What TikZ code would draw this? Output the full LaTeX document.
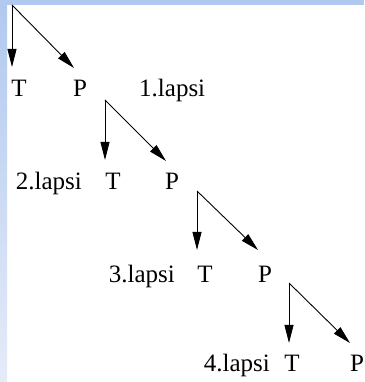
\documentclass[tikz,border=0pt]{standalone}
\usepackage{fontspec}
\setmainfont{Liberation Serif}
\usetikzlibrary{arrows.meta}
\definecolor{slideblue}{RGB}{178,201,239}
\definecolor{slidepale}{RGB}{229,235,248}
\tikzset{
  lbl/.style={inner sep=0pt,anchor=base,font=\fontsize{25}{30}\selectfont},
  arr/.style={-{Triangle[length=18pt,width=9pt]},line width=0.9pt}
}
\begin{document}
\begin{tikzpicture}[x=1pt,y=1pt]
\useasboundingbox (0,0) rectangle (364,382);
\fill[white] (0,0) rectangle (364,382);
\fill[slideblue] (0,377) rectangle (364,382);
\shade[top color=slideblue,bottom color=slidepale] (0,0) rectangle (7,377);
% 1. lapsi
\coordinate (v1) at (12,377);
\coordinate (t1) at (12,315);
\coordinate (p1) at (74,314);
\node[lbl] (T1) at (19,285) {T};
\node[lbl] (P1) at (80,285) {P};
\node[lbl,anchor=base west] (L1) at (139,285) {1.lapsi};
\draw[arr] (v1)--(t1);
\draw[arr] (v1)--(p1);
% 2. lapsi
\coordinate (v2) at (105,282);
\coordinate (t2) at (105,222);
\coordinate (p2) at (166,221);
\node[lbl] (T2) at (113,192) {T};
\node[lbl] (P2) at (172,192) {P};
\node[lbl,anchor=base east] (L2) at (82,192) {2.lapsi};
\draw[arr] (v2)--(t2);
\draw[arr] (v2)--(p2);
% 3. lapsi
\coordinate (v3) at (197,191);
\coordinate (t3) at (197,132);
\coordinate (p3) at (258,132);
\node[lbl] (T3) at (205,99) {T};
\node[lbl] (P3) at (265,99) {P};
\node[lbl,anchor=base east] (L3) at (175,99) {3.lapsi};
\draw[arr] (v3)--(t3);
\draw[arr] (v3)--(p3);
% 4. lapsi
\coordinate (v4) at (289,99);
\coordinate (t4) at (289,39);
\coordinate (p4) at (350,39);
\node[lbl] (T4) at (292,10) {T};
\node[lbl] (P4) at (357,10) {P};
\node[lbl,anchor=base east] (L4) at (270,10) {4.lapsi};
\draw[arr] (v4)--(t4);
\draw[arr] (v4)--(p4);
\end{tikzpicture}
\end{document}
